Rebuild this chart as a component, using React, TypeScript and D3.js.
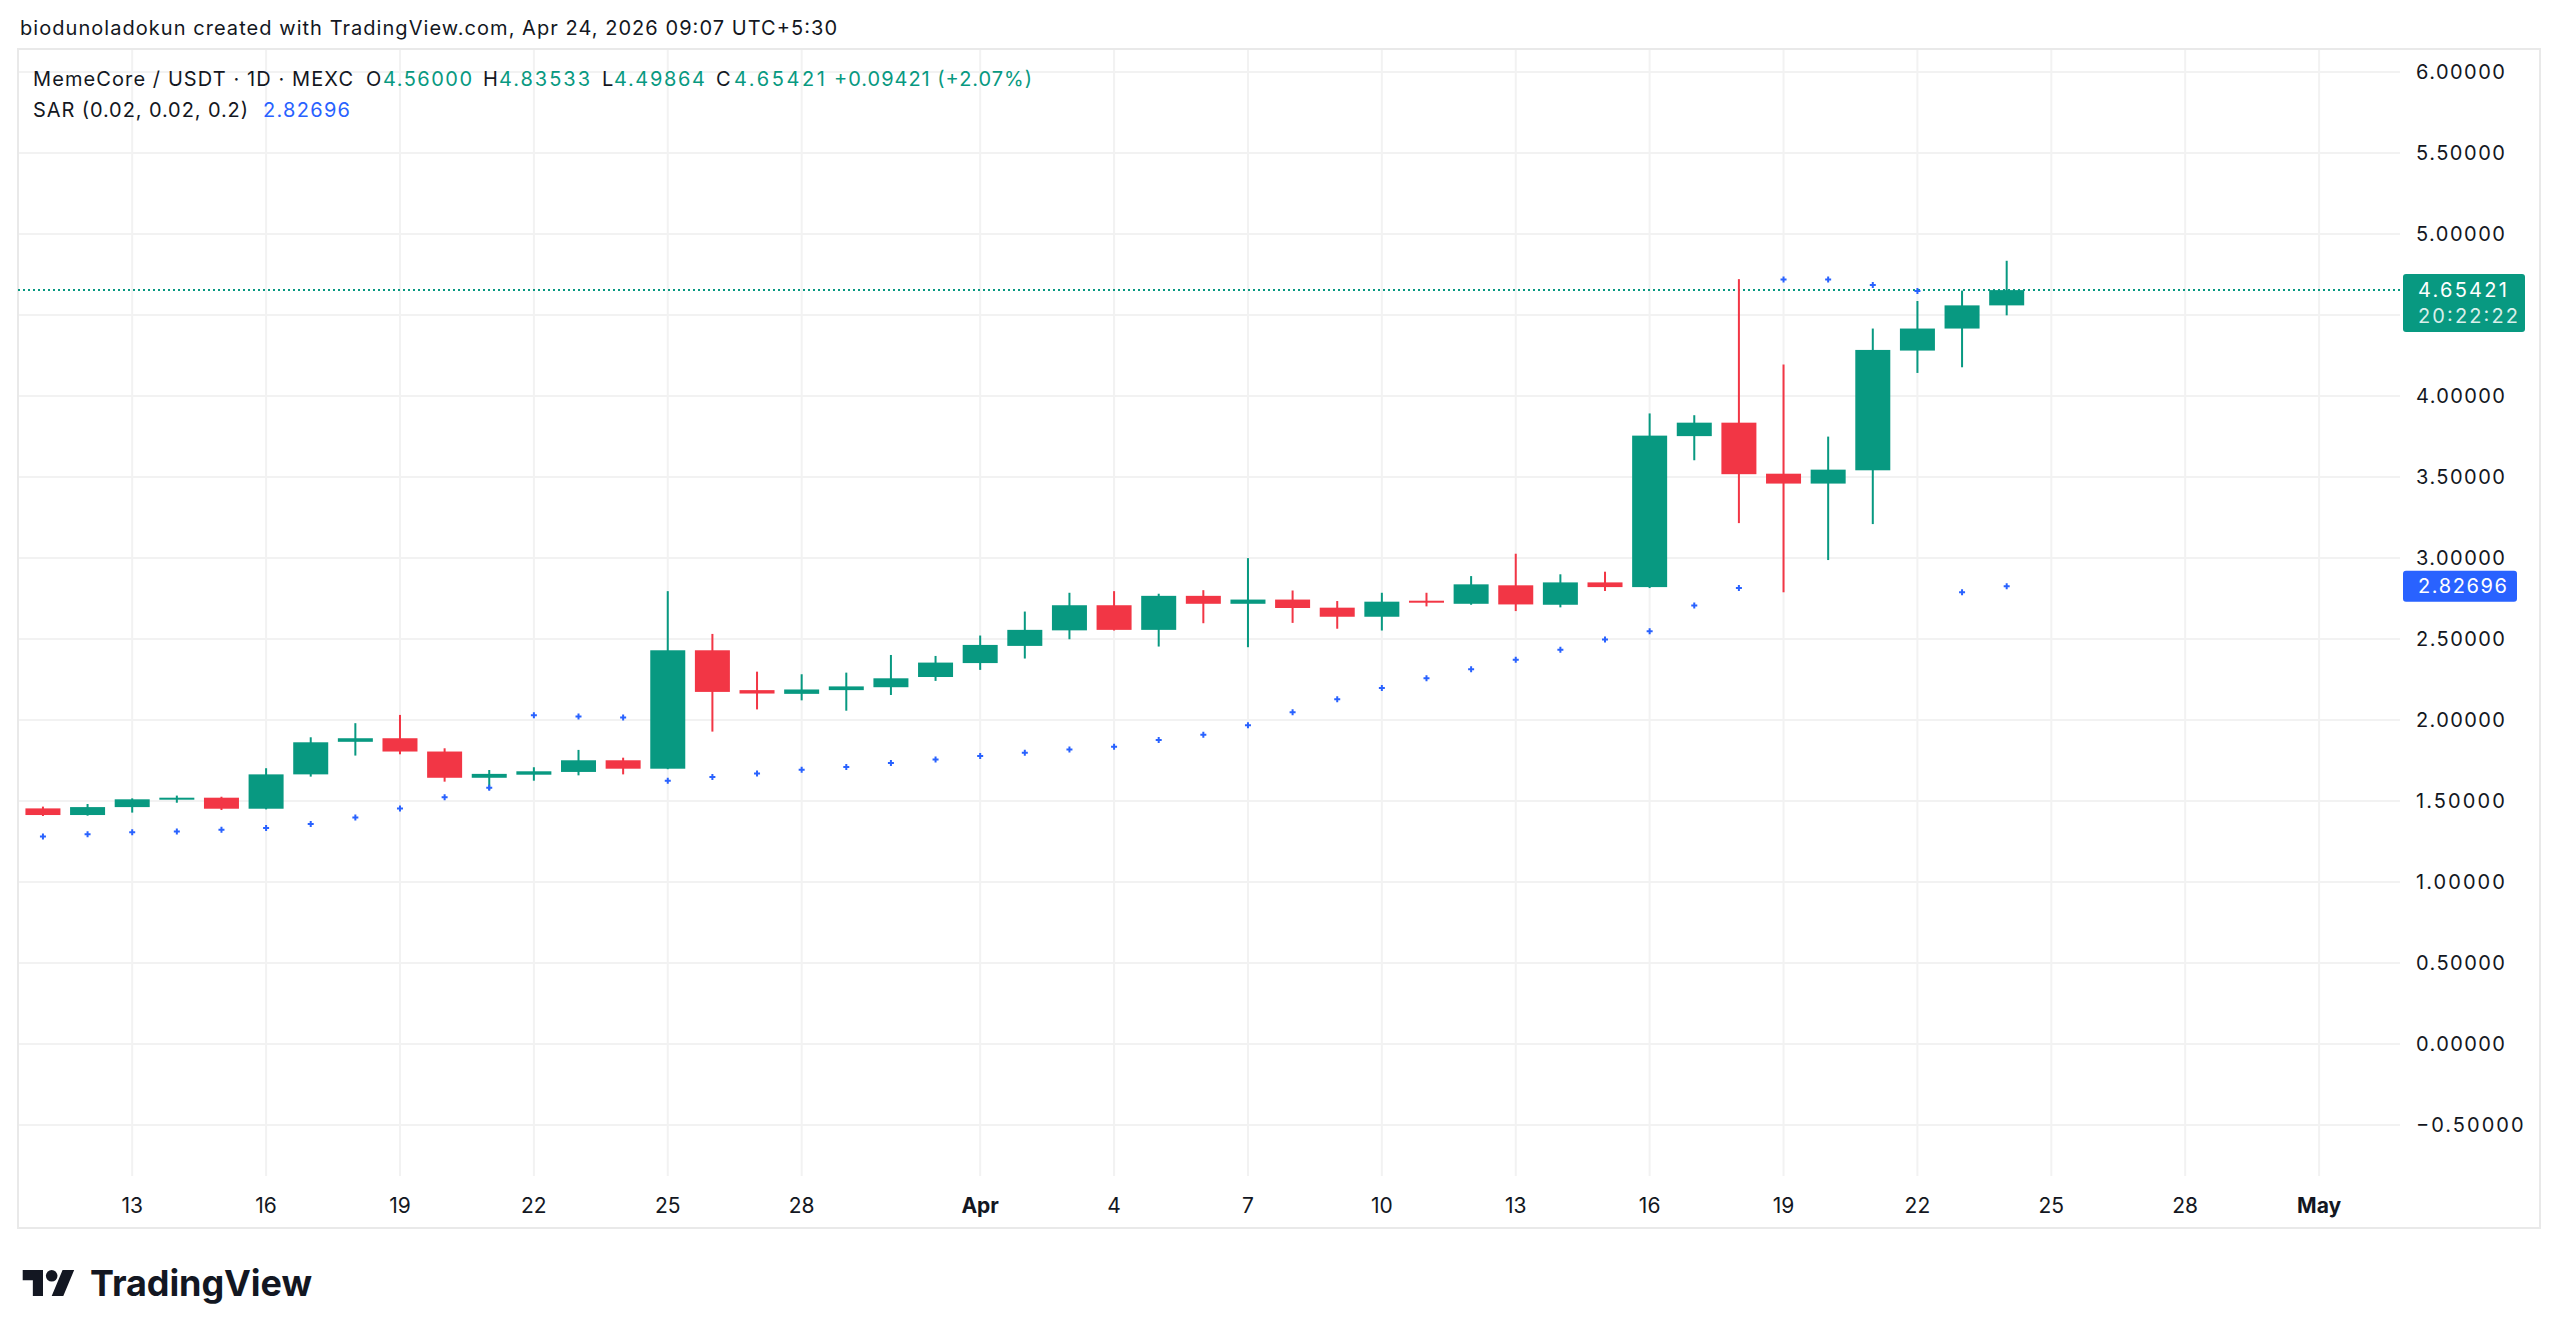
import React from 'react';
import * as d3 from 'd3';

// daily candles, MemeCore / USDT (MEXC)
const dates = [
  '2026-03-11', '2026-03-12', '2026-03-13', '2026-03-14', '2026-03-15', '2026-03-16', '2026-03-17',
  '2026-03-18', '2026-03-19', '2026-03-20', '2026-03-21', '2026-03-22', '2026-03-23', '2026-03-24',
  '2026-03-25', '2026-03-26', '2026-03-27', '2026-03-28', '2026-03-29', '2026-03-30', '2026-03-31',
  '2026-04-01', '2026-04-02', '2026-04-03', '2026-04-04', '2026-04-05', '2026-04-06', '2026-04-07',
  '2026-04-08', '2026-04-09', '2026-04-10', '2026-04-11', '2026-04-12', '2026-04-13', '2026-04-14',
  '2026-04-15', '2026-04-16', '2026-04-17', '2026-04-18', '2026-04-19', '2026-04-20', '2026-04-21',
  '2026-04-22', '2026-04-23', '2026-04-24',
];
const open = [
  1.455, 1.414, 1.463, 1.511, 1.521, 1.453, 1.665, 1.866, 1.888, 1.806, 1.644, 1.663, 1.680, 1.752,
  1.700, 2.431, 2.185, 2.162, 2.185, 2.203, 2.266, 2.352, 2.458, 2.554, 2.709, 2.557, 2.767, 2.718,
  2.744, 2.694, 2.638, 2.737, 2.718, 2.832, 2.712, 2.850, 2.821, 3.753, 3.836, 3.521, 3.460, 3.542,
  4.281, 4.417, 4.56,
];
const high = [
  1.466, 1.482, 1.517, 1.534, 1.527, 1.703, 1.894, 1.981, 2.032, 1.826, 1.692, 1.709, 1.816, 1.768,
  2.796, 2.532, 2.299, 2.283, 2.293, 2.402, 2.396, 2.522, 2.670, 2.786, 2.796, 2.780, 2.802, 3.000,
  2.800, 2.735, 2.786, 2.786, 2.889, 3.027, 2.900, 2.916, 3.893, 3.882, 4.722, 4.195, 3.750, 4.417,
  4.587, 4.651, 4.83533,
];
const low = [
  1.408, 1.410, 1.429, 1.490, 1.445, 1.449, 1.651, 1.781, 1.789, 1.620, 1.569, 1.626, 1.659, 1.665,
  1.697, 1.929, 2.066, 2.122, 2.058, 2.155, 2.242, 2.310, 2.380, 2.499, 2.553, 2.454, 2.598, 2.450,
  2.600, 2.564, 2.553, 2.702, 2.712, 2.673, 2.696, 2.797, 2.815, 3.604, 3.216, 2.789, 2.988, 3.210,
  4.143, 4.178, 4.49864,
];
const close = [
  1.414, 1.463, 1.511, 1.521, 1.453, 1.665, 1.863, 1.888, 1.806, 1.644, 1.668, 1.684, 1.752, 1.700,
  2.431, 2.174, 2.164, 2.189, 2.208, 2.258, 2.355, 2.464, 2.557, 2.709, 2.557, 2.767, 2.718, 2.744,
  2.692, 2.638, 2.731, 2.725, 2.838, 2.714, 2.850, 2.821, 3.756, 3.836, 3.518, 3.460, 3.546, 4.285,
  4.417, 4.56, 4.65421,
];
const sar = [
  1.282, 1.295, 1.307, 1.313, 1.323, 1.334, 1.358, 1.398, 1.455, 1.523, 1.583, 2.030, 2.022, 2.016,
  1.625, 1.648, 1.671, 1.694, 1.710, 1.735, 1.757, 1.778, 1.799, 1.819, 1.836, 1.877, 1.910, 1.968,
  2.049, 2.128, 2.198, 2.259, 2.314, 2.372, 2.434, 2.497, 2.549, 2.708, 2.816, 4.719, 4.719, 4.686,
  4.649, 2.789, 2.82696,
];

const tickDates = [
  '2026-03-13', '2026-03-16', '2026-03-19', '2026-03-22', '2026-03-25', '2026-03-28', '2026-04-01',
  '2026-04-04', '2026-04-07', '2026-04-10', '2026-04-13', '2026-04-16', '2026-04-19', '2026-04-22',
  '2026-04-25', '2026-04-28', '2026-05-01',
];
const priceTicks = [6, 5.5, 5, 4.5, 4, 3.5, 3, 2.5, 2, 1.5, 1, 0.5, 0, -0.5];

const lastPrice = 4.65421;
const lastSar = 2.82696;

const UP = '#089981';
const DOWN = '#F23645';
const BLUE = '#2962FF';
const TEXT = '#131722';
const GRID = '#f2f2f2';
const FONT = "Inter, 'Noto Sans', sans-serif";

const W = 2560;
const H = 1340;
const pane = { left: 18, right: 2400, top: 49, bottom: 1176 };
const frameRight = 2540;
const frameBottom = 1228;

const parse = d3.utcParse('%Y-%m-%d');
const fmt = d3.format('.5f');

const App: React.FC = () => {
  const x = d3.scaleUtc()
    .domain([parse('2026-03-13')!, parse('2026-05-01')!])
    .range([132.2, 2319.1]);
  const y = d3.scaleLinear().domain([-0.5, 6]).range([1125.1, 72.1]);

  const bodyW = 35;
  const candles = dates.map((d, i) => ({
    t: parse(d)!,
    o: open[i], h: high[i], l: low[i], c: close[i], s: sar[i],
  }));

  const axisLen = (s: string) => s.length * 12.7 + (s.startsWith('−') ? 6 : 0);

  // last price label box (two lines) sits over the scale; labels under it are hidden
  const lpTop = y(lastPrice) - 16;
  const lpH = 58;
  const hidden = (v: number) => y(v) > lpTop - 6 && y(v) < lpTop + lpH + 6;

  return (
    <svg width={W} height={H} style={{ position: 'absolute', left: 0, top: 0, background: '#fff' }}
      fontFamily={FONT}>
      <rect x={0} y={0} width={W} height={H} fill="#ffffff" />

      <text x={20} y={35} fontSize={20} fill={TEXT} textLength={817}>
        biodunoladokun created with TradingView.com, Apr 24, 2026 09:07 UTC+5:30
      </text>

      {/* grid */}
      {priceTicks.map(v => (
        <line key={'h' + v} x1={pane.left} x2={pane.right} y1={y(v)} y2={y(v)} stroke={GRID} strokeWidth={2} />
      ))}
      {tickDates.map(d => (
        <line key={'v' + d} x1={x(parse(d)!)} x2={x(parse(d)!)} y1={pane.top} y2={pane.bottom}
          stroke={GRID} strokeWidth={2} />
      ))}

      {/* frame */}
      <rect x={pane.left} y={pane.top} width={frameRight - pane.left} height={frameBottom - pane.top}
        fill="none" stroke="#e9e9e9" strokeWidth={2} />

      {/* last price line */}
      <line x1={pane.left} x2={pane.right} y1={y(lastPrice)} y2={y(lastPrice)} stroke={UP}
        strokeWidth={2} strokeDasharray="2 3" />

      {/* candles */}
      {candles.map(k => {
        const cx = x(k.t);
        const col = k.c >= k.o ? UP : DOWN;
        const top = y(Math.max(k.o, k.c));
        const bh = Math.max(2, y(Math.min(k.o, k.c)) - top);
        return (
          <g key={k.t.toISOString()}>
            <rect x={cx - 1} y={y(k.h)} width={2} height={y(k.l) - y(k.h)} fill={col} />
            <rect x={cx - bodyW / 2} y={top} width={bodyW} height={bh} fill={col} />
          </g>
        );
      })}

      {/* parabolic SAR */}
      {candles.map(k => {
        const cx = x(k.t);
        const cy = y(k.s);
        return (
          <path key={'s' + k.t.toISOString()} d={`M${cx - 3},${cy}H${cx + 3}M${cx},${cy - 3}V${cy + 3}`}
            stroke={BLUE} strokeWidth={2} />
        );
      })}

      {/* price axis */}
      {priceTicks.filter(v => !hidden(v)).map(v => {
        const s = fmt(v);
        return (
          <text key={'p' + v} x={2416} y={y(v) + 7} fontSize={20} fill={TEXT} textLength={axisLen(s)}>{s}</text>
        );
      })}
      <rect x={2403} y={lpTop} width={122} height={lpH} rx={3} fill={UP} />
      <text x={2418} y={lpTop + 23} fontSize={20} fill="#fff" textLength={axisLen(fmt(lastPrice))}>{fmt(lastPrice)}</text>
      <text x={2418} y={lpTop + 49} fontSize={20} fill="#fff" fillOpacity={0.85} textLength={100}>20:22:22</text>
      <rect x={2403} y={y(lastSar) - 15.5} width={114} height={31} rx={3} fill={BLUE} />
      <text x={2418} y={y(lastSar) + 7} fontSize={20} fill="#fff" textLength={axisLen(fmt(lastSar))}>{fmt(lastSar)}</text>

      {/* time axis */}
      {tickDates.map(d => {
        const t = parse(d)!;
        const first = t.getUTCDate() === 1;
        return (
          <text key={'t' + d} x={x(t)} y={1213} fontSize={21} fill={TEXT} textAnchor="middle"
            fontWeight={first ? 700 : 400}>
            {first ? d3.utcFormat('%b')(t) : d3.utcFormat('%-d')(t)}
          </text>
        );
      })}

      {/* legend */}
      <g fontSize={20}>
        <text x={33} y={86} fill={TEXT} textLength={320}>MemeCore / USDT · 1D · MEXC</text>
        <text x={366} y={86} fill={TEXT}>O</text>
        <text x={383} y={86} fill={UP} textLength={89}>{fmt(open[open.length - 1])}</text>
        <text x={483} y={86} fill={TEXT}>H</text>
        <text x={499} y={86} fill={UP} textLength={91}>{fmt(high[high.length - 1])}</text>
        <text x={602} y={86} fill={TEXT}>L</text>
        <text x={614} y={86} fill={UP} textLength={91}>{fmt(low[low.length - 1])}</text>
        <text x={716} y={86} fill={TEXT}>C</text>
        <text x={734} y={86} fill={UP} textLength={91}>{fmt(close[close.length - 1])}</text>
        <text x={834} y={86} fill={UP} textLength={198}>+0.09421 (+2.07%)</text>
        <text x={33} y={117} fill={TEXT} textLength={215}>SAR (0.02, 0.02, 0.2)</text>
        <text x={263} y={117} fill={BLUE} textLength={87}>{fmt(lastSar)}</text>
      </g>

      {/* TradingView logo */}
      <g transform="translate(22.7,1264.2) scale(1.45)" fill={TEXT}>
        <path d="M14 22H7V11H0V4h14v18zM28 22h-8l7.5-18h8L28 22z" />
        <circle cx={20} cy={8} r={4} />
      </g>
      <text x={90} y={1296} fontSize={36} fontWeight={700} fill={TEXT} textLength={222}>TradingView</text>
    </svg>
  );
};

export default App;
